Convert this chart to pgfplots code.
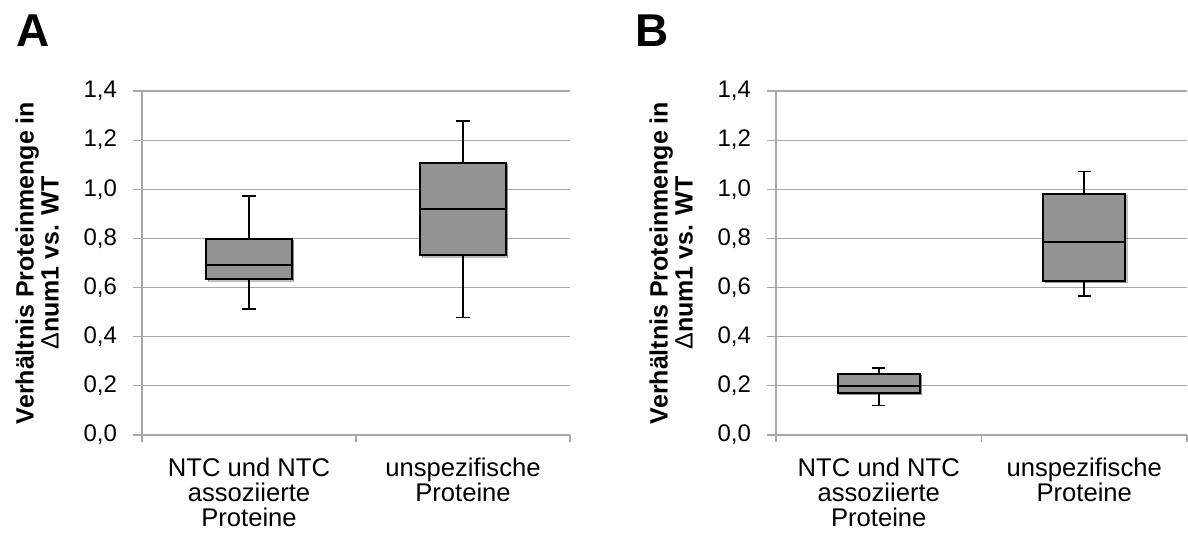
\documentclass[border=0pt]{standalone}
\usepackage{fontspec}
\setmainfont{Liberation Sans}
\usepackage{pgfplots}
\pgfplotsset{compat=1.18}
\usepgfplotslibrary{statistics}
\usetikzlibrary{shadows}

\definecolor{gridgray}{RGB}{168,168,168}
\definecolor{boxgray}{RGB}{147,147,147}

\pgfplotsset{
  panel/.style={
    scale only axis, width=#1, height=172pt,
    xmin=0.5, xmax=2.5, ymin=0, ymax=1.4,
    ytick={0,0.2,...,1.4},
    xtick={1,2},
    minor xtick={0.5,1.5,2.5},
    xticklabels={{NTC und NTC\\assoziierte\\Proteine},{unspezifische\\Proteine}},
    axis x line*=bottom, axis y line*=left,
    axis line style={gridgray, line width=0.6pt},
    tick align=outside,
    major tick length=4.5pt, minor tick length=3.5pt,
    tick style={gridgray, line width=0.6pt},
    major x tick style={draw=none},
    ymajorgrids, grid style={gridgray, line width=0.6pt},
    yticklabel style={font=\fontsize{12}{14}\selectfont, xshift=-4.5pt,
      /pgf/number format/.cd, fixed, fixed zerofill, precision=1,
      use comma, assume math mode=true},
    xticklabel style={font=\fontsize{12.8}{12.6}\selectfont, align=center,
      inner sep=0.5pt, yshift=-6.2pt},
    ylabel={Verhältnis Proteinmenge in\\{\mdseries Δ}num1 vs. WT},
    ylabel style={font=\bfseries\fontsize{12.5}{12.5}\selectfont, align=center,
      anchor=center},
    boxplot/draw direction=y,
    boxplot/box extend=0.4,
    boxplot/whisker extend=0.065,
    boxplot/every box/.style={draw=black, fill=boxgray, line width=1pt,
      drop shadow={shadow xshift=0.9pt, shadow yshift=-0.9pt, opacity=0.25, fill=black}},
    boxplot/every median/.style={draw=black, line width=1pt},
    boxplot/every whisker/.style={draw=black, line width=0.9pt},
  },
}

\begin{document}
\begin{tikzpicture}
\path[use as bounding box] (0,0) rectangle (594pt,-266.5pt);

\node[font=\bfseries\fontsize{23}{26}\selectfont] at (16.5pt,-15.5pt) {A};
\node[font=\bfseries\fontsize{23}{26}\selectfont] at (326pt,-15.5pt) {B};

% Panel A
\begin{axis}[panel=214pt, at={(71pt,-217.5pt)}, anchor=south west,
  ylabel style={at={(axis description cs:-0.245,0.5)}}]
\addplot[boxplot prepared={draw position=1,
  lower whisker=0.514, lower quartile=0.633, median=0.690,
  upper quartile=0.799, upper whisker=0.973}] coordinates {};
\addplot[boxplot prepared={draw position=2,
  lower whisker=0.478, lower quartile=0.731, median=0.921,
  upper quartile=1.109, upper whisker=1.279}] coordinates {};
\end{axis}

% Panel B
\begin{axis}[panel=205.5pt, at={(388pt,-217.5pt)}, anchor=south west,
  ylabel style={at={(axis description cs:-0.255,0.5)}}]
\addplot[boxplot prepared={draw position=1,
  lower whisker=0.120, lower quartile=0.171, median=0.201,
  upper quartile=0.250, upper whisker=0.272}] coordinates {};
\addplot[boxplot prepared={draw position=2,
  lower whisker=0.567, lower quartile=0.627, median=0.786,
  upper quartile=0.982, upper whisker=1.072}] coordinates {};
\end{axis}
\end{tikzpicture}
\end{document}
